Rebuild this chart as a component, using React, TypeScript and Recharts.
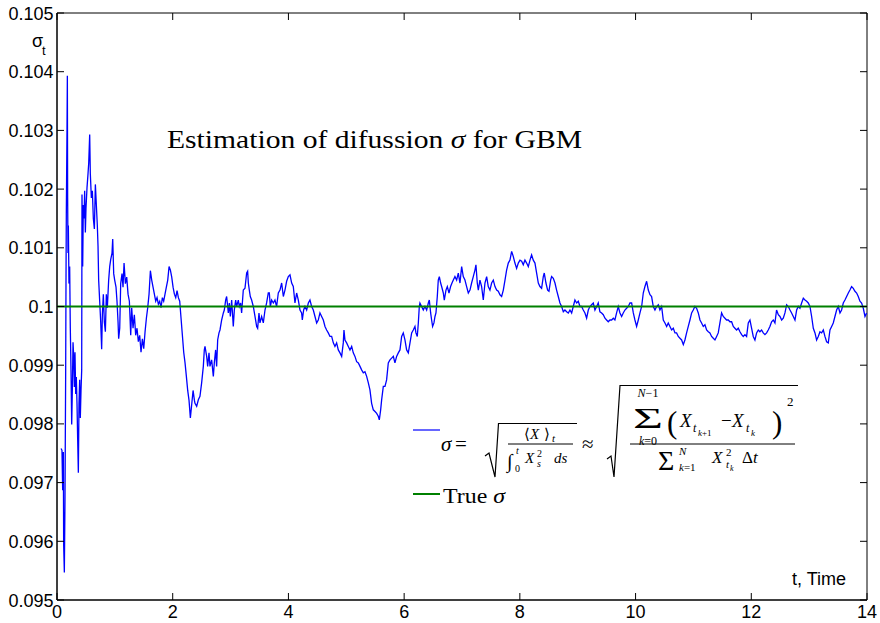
import { LineChart, Line, XAxis, YAxis, ReferenceLine, ReferenceArea } from "recharts";

// sigma estimate, [t, sigma_t]
const segStart: [number, number][] = [
  [0.07, 0.09758], [0.086, 0.09755], [0.098, 0.09687], [0.11, 0.09752], [0.115, 0.09594], [0.127, 0.09547],
  [0.138, 0.0967], [0.15, 0.09892], [0.156, 0.10056], [0.161, 0.10156], [0.173, 0.10302], [0.179, 0.10393],
  [0.184, 0.10185], [0.19, 0.10091], [0.196, 0.10138], [0.207, 0.10039], [0.219, 0.10068], [0.23, 0.09963],
  [0.242, 0.09892], [0.254, 0.09799], [0.265, 0.09857], [0.277, 0.09939], [0.288, 0.09916], [0.3, 0.09863],
  [0.311, 0.09922], [0.323, 0.09851], [0.334, 0.0988], [0.346, 0.09834], [0.357, 0.09775], [0.369, 0.09717],
  [0.38, 0.09834], [0.392, 0.09875], [0.403, 0.0981], [0.415, 0.09857], [0.427, 0.09892], [0.432, 0.10191],
  [0.444, 0.10068], [0.455, 0.10173], [0.467, 0.1015], [0.478, 0.10197], [0.49, 0.10126], [0.501, 0.10167],
  [0.519, 0.10203], [0.536, 0.10226], [0.548, 0.10244], [0.565, 0.10293], [0.576, 0.10226], [0.594, 0.10185],
  [0.611, 0.10197], [0.628, 0.1015], [0.646, 0.10132], [0.663, 0.10208], [0.68, 0.10173], [0.697, 0.10138],
  [0.709, 0.10103], [0.72, 0.10045], [0.738, 0.10009], [0.755, 0.09974], [0.772, 0.09927], [0.784, 0.09986],
  [0.801, 0.10021], [0.818, 0.09974], [0.836, 0.09957], [0.853, 0.10021], [0.87, 0.09998], [0.893, 0.10045],
  [0.911, 0.10068], [0.928, 0.1008], [0.951, 0.10091], [0.963, 0.10115], [0.98, 0.10056], [0.997, 0.10045],
];

const segOneToTwo: [number, number][] = [
  [1.02, 0.10033], [1.037, 0.10009], [1.055, 0.09974], [1.066, 0.09945], [1.084, 0.09963], [1.101, 0.10039],
  [1.124, 0.10056], [1.141, 0.10033], [1.159, 0.10074], [1.182, 0.10039], [1.205, 0.1005], [1.228, 0.10021],
  [1.251, 0.10009], [1.274, 0.09951], [1.291, 0.09998], [1.314, 0.09963], [1.337, 0.09986], [1.36, 0.09951],
  [1.383, 0.09963], [1.406, 0.0994], [1.429, 0.09951], [1.452, 0.09922], [1.476, 0.09945], [1.499, 0.09928],
  [1.522, 0.09957], [1.545, 0.0998], [1.568, 0.09998], [1.591, 0.10021], [1.614, 0.10061], [1.637, 0.10045],
  [1.66, 0.10033], [1.683, 0.10021], [1.706, 0.10009], [1.729, 0.10015], [1.752, 0.10004], [1.775, 0.10009],
  [1.798, 0.09998], [1.821, 0.10015], [1.844, 0.10009], [1.867, 0.10021], [1.89, 0.10033], [1.914, 0.10045],
  [1.937, 0.10068], [1.96, 0.10062], [1.983, 0.1005], [2.006, 0.10033], [2.029, 0.10021], [2.052, 0.10015],
  [2.075, 0.10027], [2.098, 0.10015], [2.121, 0.10009], [2.144, 0.0998], [2.167, 0.09951], [2.19, 0.09922],
  [2.213, 0.09904], [2.236, 0.09881], [2.259, 0.09857], [2.282, 0.0984], [2.305, 0.0981], [2.329, 0.09834],
  [2.352, 0.09857], [2.375, 0.0984],
];

const segTwoToFive: [number, number][] = [
  [2.385, 0.09835], [2.414, 0.0983], [2.443, 0.09841], [2.471, 0.09847], [2.5, 0.0987], [2.529, 0.09898],
  [2.546, 0.09926], [2.558, 0.09932], [2.587, 0.09915], [2.604, 0.09898], [2.627, 0.09921], [2.644, 0.09898],
  [2.673, 0.09909], [2.702, 0.09881], [2.719, 0.09904], [2.742, 0.09926], [2.759, 0.09898], [2.777, 0.09943],
  [2.8, 0.09955], [2.817, 0.0996], [2.846, 0.09977], [2.875, 0.09989], [2.892, 0.09994], [2.915, 0.10011],
  [2.932, 0.10017], [2.95, 0.1], [2.961, 0.09989], [2.978, 0.10006], [2.996, 0.09983], [3.019, 0.10011],
  [3.047, 0.09966], [3.065, 0.09994], [3.088, 0.10011], [3.105, 0.1], [3.134, 0.10011], [3.151, 0.1],
  [3.174, 0.10006], [3.191, 0.09989], [3.22, 0.10028], [3.249, 0.10031], [3.278, 0.10057], [3.295, 0.1006],
  [3.307, 0.1004], [3.324, 0.10028], [3.341, 0.10017], [3.364, 0.10011], [3.393, 0.1], [3.422, 0.09983],
  [3.451, 0.09966], [3.468, 0.09963], [3.491, 0.09989], [3.508, 0.09972], [3.537, 0.09983], [3.566, 0.09972],
  [3.595, 0.09994], [3.623, 0.10006], [3.652, 0.10023], [3.67, 0.10023], [3.687, 0.1], [3.71, 0.10011],
  [3.739, 0.10006], [3.767, 0.10011], [3.796, 0.1], [3.825, 0.10023], [3.854, 0.10028], [3.883, 0.1004],
  [3.912, 0.10017], [3.94, 0.10028], [3.969, 0.10043], [3.998, 0.10051], [4.027, 0.10054], [4.056, 0.1004],
  [4.084, 0.10034], [4.113, 0.10006], [4.142, 0.10023], [4.171, 0.10011], [4.2, 0.09994], [4.228, 0.09989],
  [4.24, 0.09977], [4.263, 0.09994], [4.286, 0.1], [4.315, 0.09994], [4.344, 0.10006], [4.372, 0.10011],
  [4.401, 0.1], [4.43, 0.09994], [4.459, 0.09983], [4.488, 0.09972], [4.516, 0.09977], [4.545, 0.09989],
  [4.574, 0.09983], [4.603, 0.09977], [4.632, 0.09966], [4.66, 0.0996], [4.689, 0.09955], [4.718, 0.09949],
  [4.747, 0.09949], [4.776, 0.09938], [4.804, 0.09932], [4.833, 0.09938], [4.862, 0.09926], [4.891, 0.09921],
  [4.92, 0.09915], [4.948, 0.09938],
];

const segFiveToSeven: [number, number][] = [
  [4.96, 0.0996], [4.977, 0.09943], [5.006, 0.09938], [5.035, 0.09932], [5.064, 0.09926], [5.093, 0.09932],
  [5.121, 0.09921], [5.15, 0.09915], [5.179, 0.09906], [5.208, 0.09904], [5.237, 0.09898], [5.265, 0.09892],
  [5.294, 0.09887], [5.323, 0.09889], [5.352, 0.09881], [5.381, 0.0987], [5.409, 0.09858], [5.438, 0.09835],
  [5.467, 0.09824], [5.496, 0.09821], [5.525, 0.09818], [5.553, 0.09813], [5.571, 0.09807], [5.594, 0.09824],
  [5.611, 0.09841], [5.64, 0.09864], [5.669, 0.09864], [5.697, 0.09875], [5.726, 0.09904], [5.755, 0.09909],
  [5.784, 0.09912], [5.813, 0.09915], [5.841, 0.09904], [5.87, 0.09915], [5.899, 0.09921], [5.928, 0.09926],
  [5.957, 0.09949], [5.985, 0.09955], [6.014, 0.09943], [6.043, 0.09926], [6.072, 0.09921], [6.101, 0.09938],
  [6.13, 0.09955], [6.158, 0.0996], [6.187, 0.09966], [6.204, 0.09955], [6.227, 0.09949], [6.245, 0.09972],
  [6.262, 0.1], [6.273, 0.10006], [6.302, 0.1], [6.331, 0.09994], [6.36, 0.1], [6.389, 0.09994],
  [6.418, 0.10006], [6.435, 0.10011], [6.458, 0.09989], [6.475, 0.09977], [6.492, 0.09966], [6.515, 0.09972],
  [6.533, 0.09983], [6.55, 0.09989], [6.573, 0.10017], [6.59, 0.10045], [6.608, 0.10051], [6.631, 0.1004],
  [6.648, 0.10034], [6.677, 0.10023], [6.694, 0.10011], [6.723, 0.10028], [6.746, 0.10034], [6.775, 0.10023],
  [6.803, 0.10034], [6.827, 0.1004], [6.85, 0.10045], [6.878, 0.10051], [6.907, 0.10045], [6.936, 0.10057],
  [6.965, 0.1004], [6.994, 0.10068], [7.022, 0.10051], [7.051, 0.10045], [7.08, 0.10034], [7.109, 0.10023],
  [7.138, 0.10028], [7.166, 0.1004], [7.195, 0.10051], [7.224, 0.10062], [7.241, 0.10071], [7.264, 0.1004],
  [7.282, 0.10028], [7.31, 0.10045], [7.339, 0.10034], [7.368, 0.10011], [7.397, 0.1004], [7.426, 0.10051],
  [7.454, 0.10034],
];

const segSevenToTen: [number, number][] = [
  [7.483, 0.10028], [7.512, 0.1004], [7.541, 0.10045], [7.57, 0.10034], [7.599, 0.10028], [7.627, 0.10026],
  [7.656, 0.1002], [7.685, 0.10017], [7.714, 0.10028], [7.743, 0.10045], [7.771, 0.10062], [7.8, 0.10074],
  [7.829, 0.10079], [7.858, 0.10094], [7.887, 0.10085], [7.915, 0.10074], [7.944, 0.10065], [7.973, 0.10074],
  [8.002, 0.10079], [8.031, 0.10077], [8.059, 0.10071], [8.088, 0.10079], [8.117, 0.10074], [8.146, 0.10068],
  [8.175, 0.10079], [8.203, 0.10088], [8.232, 0.10079], [8.261, 0.10074], [8.29, 0.10057], [8.319, 0.1004],
  [8.347, 0.10034], [8.376, 0.10031], [8.405, 0.10051], [8.422, 0.10057], [8.451, 0.1004], [8.48, 0.10028],
  [8.503, 0.10026], [8.532, 0.10045], [8.549, 0.10051], [8.578, 0.10048], [8.607, 0.1004], [8.635, 0.10028],
  [8.664, 0.10017], [8.693, 0.10006], [8.722, 0.1], [8.751, 0.09991], [8.779, 0.09994], [8.808, 0.09991],
  [8.837, 0.09989], [8.866, 0.09994], [8.895, 0.09989], [8.923, 0.1], [8.952, 0.10011], [8.981, 0.10006],
  [9.01, 0.10009], [9.039, 0.1], [9.067, 0.1], [9.096, 0.09994], [9.125, 0.09989], [9.154, 0.0998],
  [9.183, 0.09994], [9.211, 0.1], [9.24, 0.10003], [9.269, 0.10006], [9.298, 0.09994], [9.327, 0.1],
  [9.355, 0.10006], [9.384, 0.09991], [9.413, 0.09989], [9.442, 0.09986], [9.471, 0.0998], [9.499, 0.09977],
  [9.528, 0.09974], [9.557, 0.09977], [9.586, 0.09977], [9.615, 0.0998], [9.643, 0.09977], [9.672, 0.09989],
  [9.701, 0.1], [9.73, 0.09989], [9.759, 0.09983], [9.787, 0.09989], [9.816, 0.09994], [9.845, 0.09997],
  [9.874, 0.1], [9.903, 0.10006],
];

const segTenToEnd: [number, number][] = [
  [9.932, 0.10006], [9.961, 0.09989], [9.989, 0.09977], [10.018, 0.09966], [10.047, 0.09977], [10.076, 0.09989],
  [10.105, 0.1], [10.133, 0.10023], [10.162, 0.10034], [10.191, 0.10043], [10.22, 0.10028], [10.249, 0.1002],
  [10.277, 0.10017], [10.306, 0.1], [10.335, 0.09994], [10.364, 0.1], [10.393, 0.10003], [10.421, 0.09994],
  [10.45, 0.1], [10.479, 0.09977], [10.508, 0.09972], [10.537, 0.09966], [10.565, 0.09972], [10.594, 0.09966],
  [10.623, 0.0996], [10.652, 0.09963], [10.681, 0.09955], [10.709, 0.09955], [10.738, 0.09949], [10.767, 0.09946],
  [10.796, 0.09943], [10.825, 0.09935], [10.853, 0.09943], [10.882, 0.09955], [10.911, 0.09966], [10.94, 0.09977],
  [10.969, 0.09989], [10.997, 0.09994], [11.026, 0.1], [11.055, 0.09997], [11.084, 0.09989], [11.113, 0.09977],
  [11.141, 0.09972], [11.17, 0.09966], [11.199, 0.09969], [11.228, 0.0996], [11.257, 0.09957], [11.285, 0.09955],
  [11.314, 0.09949], [11.343, 0.09946], [11.372, 0.09943], [11.401, 0.09949], [11.429, 0.09955], [11.458, 0.09972],
  [11.487, 0.09989], [11.516, 0.09983], [11.545, 0.0998], [11.573, 0.09977], [11.602, 0.09977], [11.631, 0.09974],
  [11.66, 0.09974], [11.689, 0.09966], [11.717, 0.09963], [11.746, 0.0996], [11.775, 0.09963], [11.804, 0.09957],
  [11.833, 0.09952], [11.861, 0.09949], [11.89, 0.09952], [11.919, 0.09949], [11.948, 0.09972], [11.977, 0.09977],
  [12.005, 0.09963], [12.034, 0.09949], [12.063, 0.09943], [12.092, 0.09955], [12.121, 0.0996], [12.149, 0.09957],
  [12.178, 0.0996], [12.207, 0.09955], [12.236, 0.09952], [12.265, 0.09955], [12.293, 0.0996], [12.322, 0.09966],
  [12.351, 0.09974], [12.38, 0.09977], [12.409, 0.09972], [12.437, 0.09994], [12.467, 0.09986], [12.496, 0.09983],
  [12.525, 0.09977], [12.553, 0.0998], [12.582, 0.09989], [12.611, 0.10003], [12.64, 0.1], [12.669, 0.09994],
  [12.697, 0.09989], [12.726, 0.09983], [12.755, 0.09977], [12.784, 0.09994], [12.813, 0.1], [12.841, 0.09997],
  [12.87, 0.10006], [12.899, 0.10014], [12.928, 0.10011], [12.957, 0.10009], [12.985, 0.10006], [13.014, 0.1],
  [13.043, 0.09983], [13.072, 0.09963], [13.101, 0.09955], [13.129, 0.09943], [13.158, 0.09949], [13.187, 0.09957],
  [13.216, 0.09955], [13.245, 0.0996], [13.273, 0.09949], [13.302, 0.0994], [13.331, 0.09938], [13.36, 0.0996],
  [13.389, 0.09966], [13.417, 0.09972], [13.446, 0.09983], [13.475, 0.09994], [13.504, 0.1], [13.533, 0.09989],
  [13.561, 0.09994], [13.59, 0.10006], [13.619, 0.10011], [13.648, 0.10017], [13.677, 0.10023], [13.705, 0.10028],
  [13.734, 0.10034], [13.763, 0.10031], [13.792, 0.10026], [13.821, 0.10023], [13.849, 0.10017], [13.878, 0.10009],
  [13.907, 0.10006], [13.936, 0.09997], [13.965, 0.09983], [13.993, 0.09989],
];

const TRUE_SIGMA = 0.1;
const X_TICKS = [0, 2, 4, 6, 8, 10, 12, 14];
const Y_TICKS = [0.095, 0.096, 0.097, 0.098, 0.099, 0.1, 0.101, 0.102, 0.103, 0.104, 0.105];

const data = [...segStart, ...segOneToTwo, ...segTwoToFive, ...segFiveToSeven, ...segSevenToTen, ...segTenToEnd].map(
  ([t, sigma]) => ({ t, sigma })
);

const W = 880;
const H = 623;
const MARGIN = { top: 13, right: 13, left: 0, bottom: 0 };
const PLOT_TOP = MARGIN.top;
const PLOT_RIGHT = W - MARGIN.right;
const TICK = 7;
const SANS = '"Liberation Sans", Arial, Helvetica, sans-serif';
const SERIF = '"Liberation Serif", "Times New Roman", serif';

function XTick(props: any) {
  const { x, y, payload } = props;
  return (
    <g>
      <line x1={x} x2={x} y1={y} y2={y - TICK} stroke="#000" />
      <line x1={x} x2={x} y1={PLOT_TOP} y2={PLOT_TOP + TICK} stroke="#000" />
      <text x={x} y={y + 18} textAnchor="middle" fontSize={18} fontFamily={SANS} fill="#000">
        {payload.value}
      </text>
    </g>
  );
}

function YTick(props: any) {
  const { x, y, payload } = props;
  const label = Number(payload.value.toFixed(3)).toString();
  return (
    <g>
      <line x1={x} x2={x + TICK} y1={y} y2={y} stroke="#000" />
      <line x1={PLOT_RIGHT} x2={PLOT_RIGHT - TICK} y1={y} y2={y} stroke="#000" />
      <text x={x - 3.5} y={y + 6.5} textAnchor="end" fontSize={18} fontFamily={SANS} fill="#000">
        {label}
      </text>
    </g>
  );
}

function Overlay() {
  const it = { fontStyle: "italic" as const };
  return (
    <svg width={W} height={H} style={{ position: "absolute", left: 0, top: 0, pointerEvents: "none" }}>
      <g fontFamily={SANS} fill="#000">
        <text x={32} y={47} fontSize={18}>σ</text>
        <text x={42} y={55} fontSize={13}>t</text>
        <text x={792} y={584.5} fontSize={18}>t, Time</text>
      </g>
      <g fontFamily={SERIF} fill="#000">
        <text x={167} y={148} fontSize={26} textLength={415} lengthAdjust="spacingAndGlyphs">
          Estimation of difussion <tspan {...it}>σ</tspan> for GBM
        </text>

        {/* legend: estimator */}
        <line x1={413} x2={440} y1={430} y2={430} stroke="#0000ff" strokeWidth={1.2} />
        <text x={441} y={451} fontSize={21} {...it}>σ</text>
        <text x={455} y={451} fontSize={21}>=</text>
        <path d="M485,456 L489,453 L495,477 L498.5,423.5 L577,423.5" fill="none" stroke="#000" strokeWidth={1.2} />
        <text x={524} y={439} fontSize={15}>⟨</text>
        <text x={530} y={439} fontSize={15} {...it}>X</text>
        <text x={544} y={439} fontSize={15}>⟩</text>
        <text x={552} y={442} fontSize={11} {...it}>t</text>
        <line x1={508} x2={573} y1={444} y2={444} stroke="#000" strokeWidth={1} />
        <text x={507} y={468} fontSize={20}>∫</text>
        <text x={516} y={454} fontSize={10} {...it}>t</text>
        <text x={515} y={472} fontSize={10}>0</text>
        <text x={525} y={463} fontSize={15} {...it}>X</text>
        <text x={537} y={457} fontSize={10}>2</text>
        <text x={537} y={467} fontSize={10} {...it}>s</text>
        <text x={554} y={463} fontSize={15} {...it}>ds</text>
        <text x={582} y={451} fontSize={21}>≈</text>
        <path d="M607,459 L611,456 L614,477 L620,385.5 L798,385.5" fill="none" stroke="#000" strokeWidth={1.2} />
        <text x={648} y={397} fontSize={12} textAnchor="middle"><tspan {...it}>N</tspan>−1</text>
        <text x={633} y={428} fontSize={30} textLength={30} lengthAdjust="spacingAndGlyphs">Σ</text>
        <text x={648} y={445} fontSize={12} textAnchor="middle"><tspan {...it}>k</tspan>=0</text>
        <text x={667} y={433} fontSize={31}>(</text>
        <text x={680} y={427} fontSize={19} {...it}>X</text>
        <text x={693} y={432} fontSize={12} {...it}>t</text>
        <text x={698} y={436} fontSize={9}><tspan {...it}>k</tspan>+1</text>
        <text x={721} y={427} fontSize={19}>−</text>
        <text x={732} y={427} fontSize={19} {...it}>X</text>
        <text x={746} y={432} fontSize={12} {...it}>t</text>
        <text x={751} y={436} fontSize={9} {...it}>k</text>
        <text x={772} y={433} fontSize={31}>)</text>
        <text x={787} y={406} fontSize={13}>2</text>
        <line x1={630} x2={795} y1={444} y2={444} stroke="#000" strokeWidth={1} />
        <text x={658} y={470} fontSize={28}>Σ</text>
        <text x={679} y={455} fontSize={11} {...it}>N</text>
        <text x={679} y={471} fontSize={11}><tspan {...it}>k</tspan>=1</text>
        <text x={712} y={463} fontSize={17} {...it}>X</text>
        <text x={726} y={456} fontSize={11}>2</text>
        <text x={726} y={468} fontSize={11} {...it}>t</text>
        <text x={730} y={471} fontSize={8} {...it}>k</text>
        <text x={742} y={463} fontSize={17}>Δ<tspan {...it}>t</tspan></text>

        {/* legend: true sigma */}
        <line x1={413} x2={440} y1={494} y2={494} stroke="#008000" strokeWidth={2} />
        <text x={443} y={503} fontSize={21} textLength={62} lengthAdjust="spacingAndGlyphs">
          True <tspan {...it}>σ</tspan>
        </text>
      </g>
    </svg>
  );
}

export default function App() {
  return (
    <div style={{ position: "absolute", left: 0, top: 0, width: W, height: H, background: "#fff" }}>
      <LineChart width={W} height={H} data={data} margin={MARGIN}>
        <XAxis
          dataKey="t"
          type="number"
          domain={[0, 14]}
          ticks={X_TICKS}
          interval={0}
          height={23}
          tickSize={0}
          tickMargin={0}
          tickLine={false}
          axisLine={{ stroke: "#000" }}
          tick={(p: any) => <XTick {...p} />}
          allowDataOverflow
        />
        <YAxis
          type="number"
          domain={[0.095, 0.105]}
          ticks={Y_TICKS}
          interval={0}
          width={57}
          tickSize={0}
          tickMargin={0}
          tickLine={false}
          axisLine={{ stroke: "#000" }}
          tick={(p: any) => <YTick {...p} />}
          allowDataOverflow
        />
        <ReferenceArea x1={0} x2={14} y1={0.095} y2={0.105} fill="none" stroke="#000" strokeWidth={1} />
        <Line
          dataKey="sigma"
          type="linear"
          stroke="#0000ff"
          strokeWidth={1.3}
          dot={false}
          isAnimationActive={false}
        />
        <ReferenceLine y={TRUE_SIGMA} stroke="#008000" strokeWidth={2} />
      </LineChart>
      <Overlay />
    </div>
  );
}
